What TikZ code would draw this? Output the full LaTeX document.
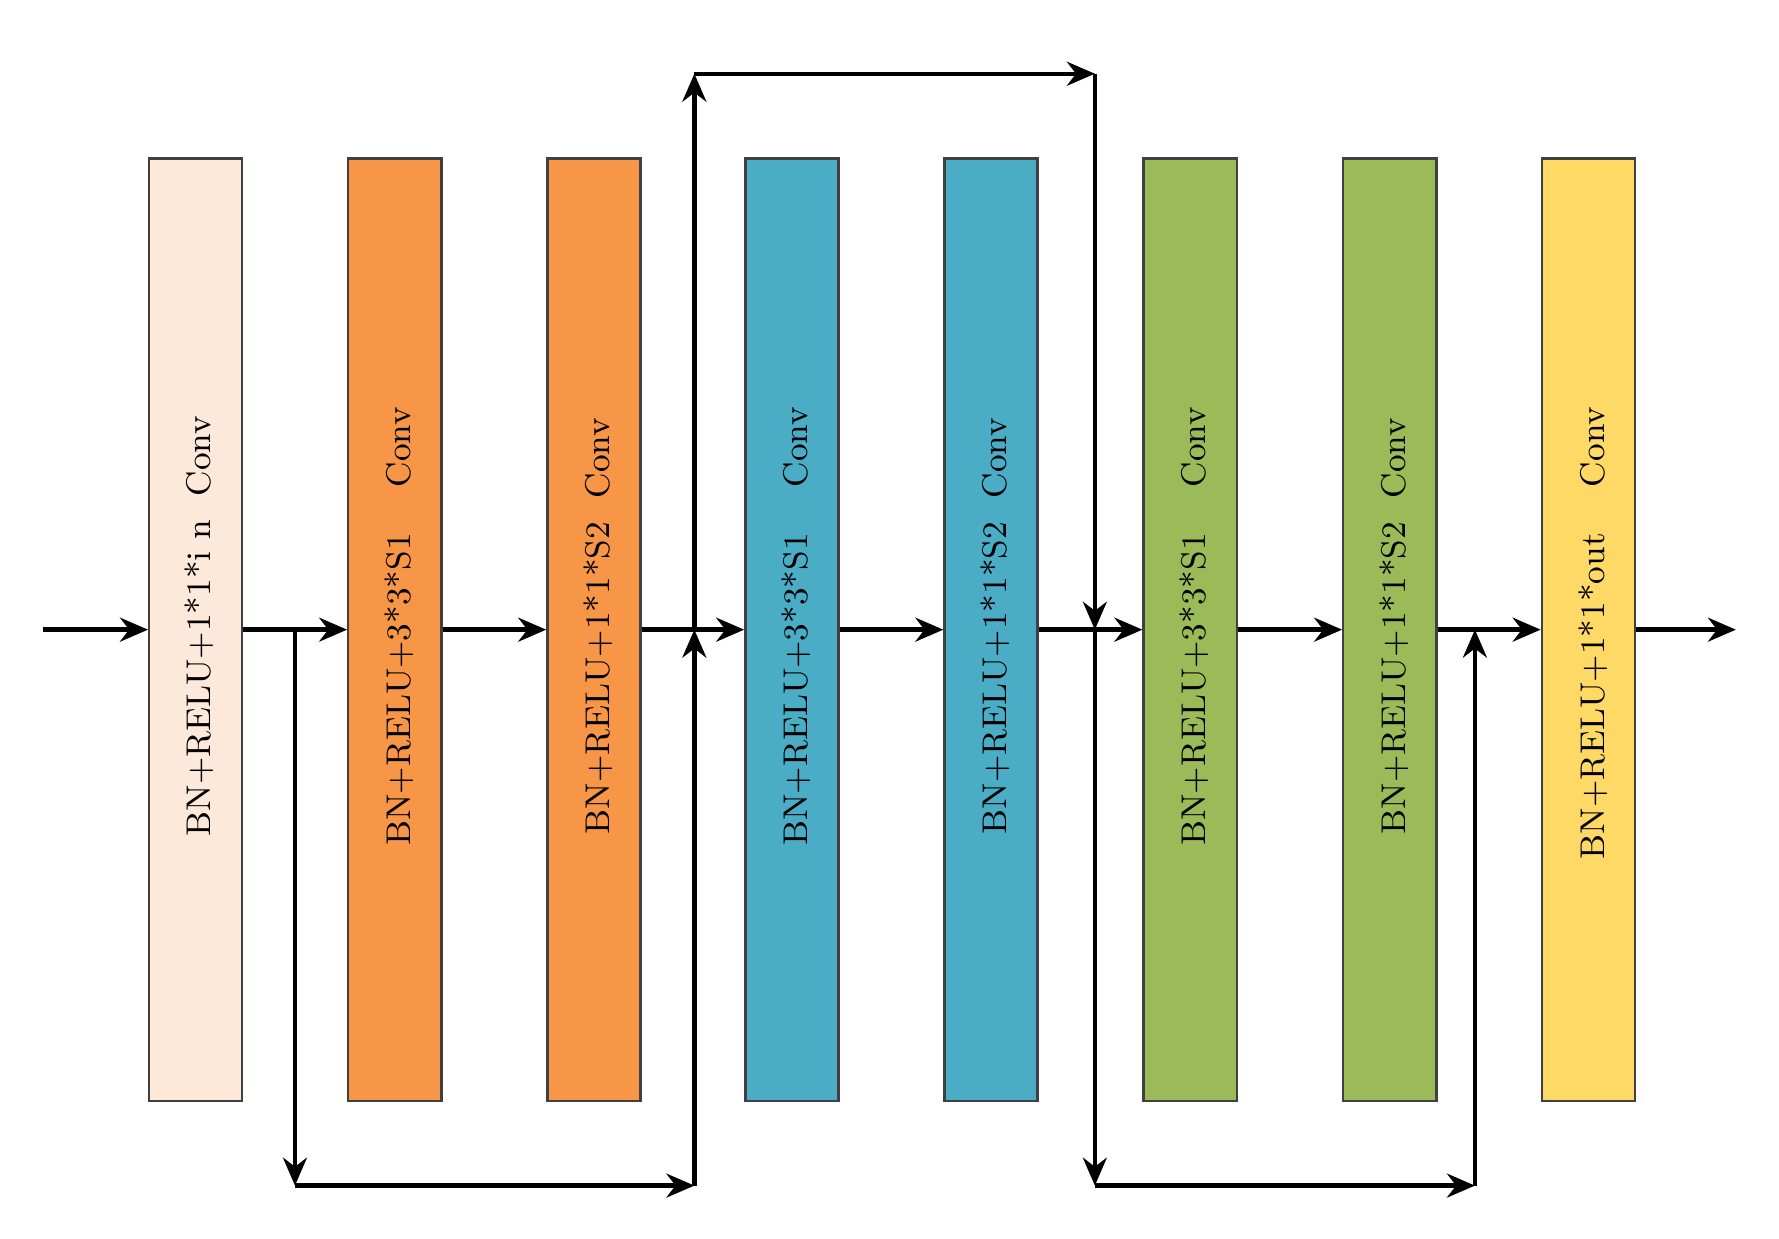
\documentclass[tikz,border=0pt]{standalone}
\usetikzlibrary{arrows.meta}
\begin{document}
\begin{tikzpicture}[x=0.01cm,y=-0.01cm,
  blk/.style={draw=black!75,line width=0.6pt,minimum width=0.82cm,minimum height=8.3cm,inner sep=0pt},
  lbl/.style={rotate=90,font=\fontsize{8.6}{10}\selectfont},
  arr/.style={-{Stealth[length=7pt,width=6pt]},line width=1.1pt}]
\useasboundingbox (0,0) rectangle (1568,1092);
\definecolor{peach}{HTML}{FDE9D9}
\definecolor{org}{HTML}{F79646}
\definecolor{blu}{HTML}{4BACC6}
\definecolor{grn}{HTML}{9BBB59}
\definecolor{yel}{HTML}{FFD966}
\node[blk,fill=peach] (b1) at (172.5,555) {};
\node[blk,fill=org] (b2) at (348,555) {};
\node[blk,fill=org] (b3) at (523.5,555) {};
\node[blk,fill=blu] (b4) at (698,555) {};
\node[blk,fill=blu] (b5) at (873.5,555) {};
\node[blk,fill=grn] (b6) at (1049,555) {};
\node[blk,fill=grn] (b7) at (1225,555) {};
\node[blk,fill=yel] (b8) at (1400,555) {};
\node[lbl] (t1) at (176,552) {BN+RELU+1*1*i n\ \ Conv};
\node[lbl] (t2) at (352,552) {BN+RELU+3*3*S1\quad\ Conv};
\node[lbl] (t3) at (527,552) {BN+RELU+1*1*S2\ \ Conv};
\node[lbl] (t4) at (702,552) {BN+RELU+3*3*S1\quad\ Conv};
\node[lbl] (t5) at (877,552) {BN+RELU+1*1*S2\ \ Conv};
\node[lbl] (t6) at (1053,552) {BN+RELU+3*3*S1\quad\ Conv};
\node[lbl] (t7) at (1229,552) {BN+RELU+1*1*S2\ \ Conv};
\node[lbl] (t8) at (1404,558) {BN+RELU+1*1*out\quad\ Conv};
\coordinate (in) at (38,555);
\coordinate (out) at (1530,555);
\coordinate (s1a) at (260,555);
\coordinate (s1b) at (260,1045);
\coordinate (s1c) at (612,1045);
\coordinate (s1d) at (612,555);
\coordinate (s2b) at (612,65);
\coordinate (s2c) at (965,65);
\coordinate (s2d) at (965,555);
\coordinate (s3b) at (965,1045);
\coordinate (s3c) at (1300,1045);
\coordinate (s3d) at (1300,555);
\draw[arr] (in) -- (b1.west);
\draw[arr] (b1.east) -- (b2.west);
\draw[arr] (b2.east) -- (b3.west);
\draw[arr] (b3.east) -- (b4.west);
\draw[arr] (b4.east) -- (b5.west);
\draw[arr] (b5.east) -- (b6.west);
\draw[arr] (b6.east) -- (b7.west);
\draw[arr] (b7.east) -- (b8.west);
\draw[arr] (b8.east) -- (out);
\draw[arr] (s1a) -- (s1b);
\draw[arr] (s1b) -- (s1c);
\draw[arr] (s1c) -- (s1d);
\draw[arr] (s1d) -- (s2b);
\draw[arr] (s2b) -- (s2c);
\draw[arr] (s2c) -- (s2d);
\draw[arr] (s2d) -- (s3b);
\draw[arr] (s3b) -- (s3c);
\draw[arr] (s3c) -- (s3d);
\end{tikzpicture}
\end{document}
